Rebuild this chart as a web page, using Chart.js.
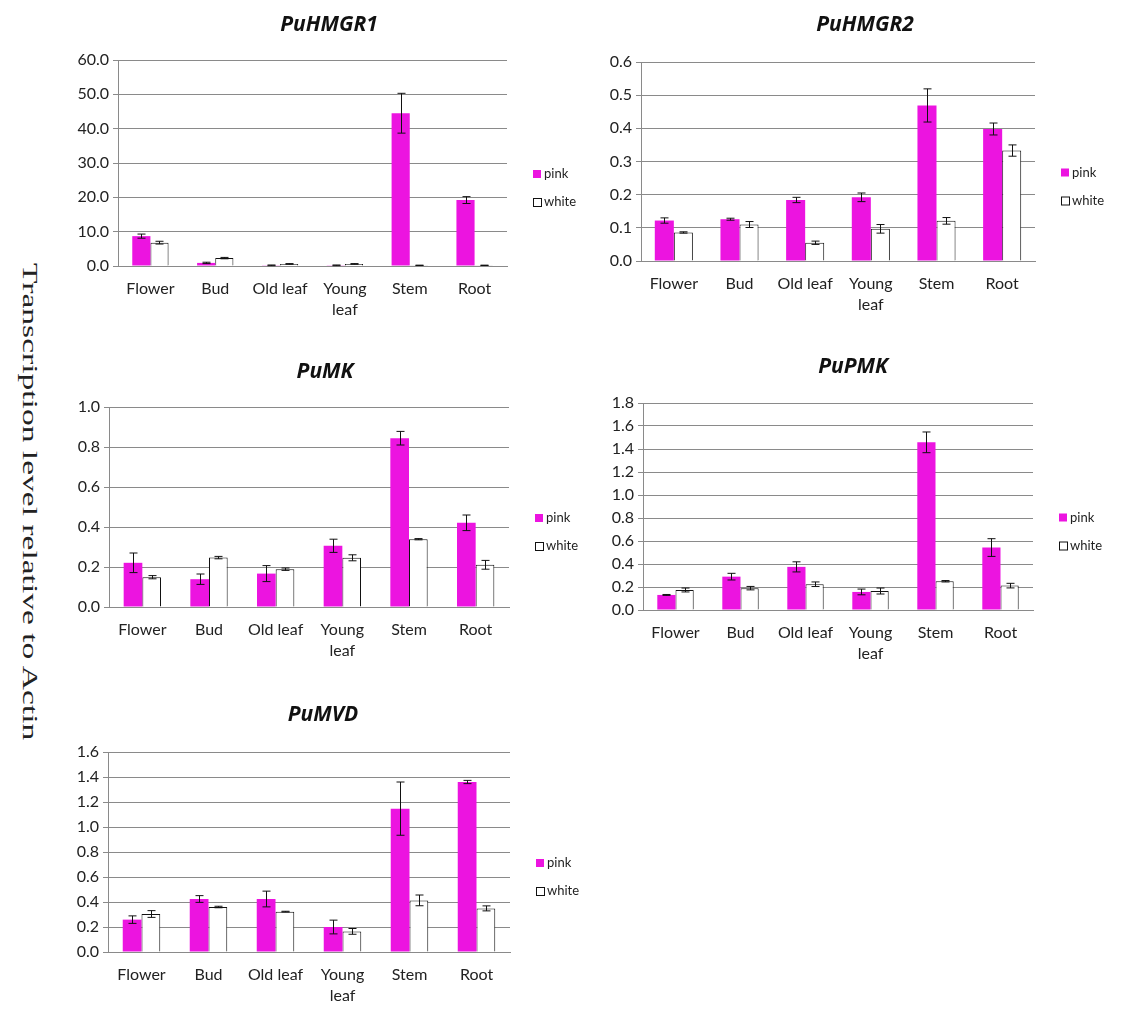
<!DOCTYPE html>
<html>
<head>
<meta charset="utf-8">
<script src="https://cdn.jsdelivr.net/npm/chart.js@4.4.1/dist/chart.umd.min.js"></script>
<style>
  body { margin: 0; background: #fff; width: 1134px; height: 1015px; position: relative; overflow: hidden; }
  .box { position: absolute; }
  #ylab { position: absolute; font-family: "Liberation Serif", serif; font-size: 22px; color: #222; white-space: nowrap; transform-origin: 0 0; }
</style>
</head>
<body>
<div id="ylab">Transcription level relative to Actin</div>

<script>
// tissues on the x axis
const tissues = ['Flower', 'Bud', 'Old leaf', ['Young', 'leaf'], 'Stem', 'Root'];
const seriesNames = ['pink', 'white'];

// PuHMGR1
const hmgr1Pink = [8.7, 0.9, 0.2, 0.2, 44.5, 19.2];
const hmgr1PinkErr = [0.6, 0.2, 0.1, 0.1, 5.8, 1.0];
const hmgr1White = [6.8, 2.3, 0.6, 0.6, 0.2, 0.2];
const hmgr1WhiteErr = [0.4, 0.2, 0.1, 0.1, 0.05, 0.05];

// PuHMGR2
const hmgr2Pink = [0.122, 0.126, 0.184, 0.192, 0.469, 0.398];
const hmgr2PinkErr = [0.008, 0.003, 0.008, 0.013, 0.05, 0.018];
const hmgr2White = [0.086, 0.110, 0.055, 0.097, 0.121, 0.333];
const hmgr2WhiteErr = [0.002, 0.009, 0.005, 0.013, 0.010, 0.017];

// PuMK
const mkPink = [0.221, 0.139, 0.167, 0.306, 0.844, 0.421];
const mkPinkErr = [0.049, 0.026, 0.040, 0.033, 0.034, 0.039];
const mkWhite = [0.149, 0.247, 0.189, 0.246, 0.339, 0.211];
const mkWhiteErr = [0.008, 0.006, 0.006, 0.015, 0.003, 0.022];

// PuPMK
const pmkPink = [0.131, 0.290, 0.375, 0.157, 1.458, 0.543];
const pmkPinkErr = [0.004, 0.029, 0.044, 0.025, 0.090, 0.077];
const pmkWhite = [0.174, 0.190, 0.224, 0.165, 0.250, 0.212];
const pmkWhiteErr = [0.017, 0.015, 0.020, 0.026, 0.006, 0.020];

// PuMVD
const mvdPink = [0.259, 0.424, 0.424, 0.200, 1.147, 1.360];
const mvdPinkErr = [0.030, 0.027, 0.063, 0.055, 0.213, 0.013];
const mvdWhite = [0.304, 0.360, 0.323, 0.165, 0.413, 0.349];
const mvdWhiteErr = [0.027, 0.006, 0.003, 0.023, 0.043, 0.020];

const PINK = '#EC14E0';
const GRID = '#8a8a8a';
const TEXT = '#222';
const FONT = 'Lato, "Open Sans", sans-serif';
const TITLE_SIZE = 21;

// error bars drawn from the err arrays through the y scale
const errorBars = {
  id: 'errorBars',
  afterDatasetsDraw(chart) {
    const ctx = chart.ctx;
    const y = chart.scales.y;
    ctx.save();
    ctx.strokeStyle = '#111';
    ctx.lineWidth = 1;
    chart.data.datasets.forEach((ds, di) => {
      const meta = chart.getDatasetMeta(di);
      meta.data.forEach((bar, i) => {
        const v = ds.data[i], e = ds.err[i];
        const x = Math.round(bar.x) + 0.5;
        const top = y.getPixelForValue(v + e);
        const bot = y.getPixelForValue(v - e);
        ctx.beginPath();
        ctx.moveTo(x, top); ctx.lineTo(x, bot);
        ctx.moveTo(x - 4, top); ctx.lineTo(x + 4, top);
        ctx.moveTo(x - 4, bot); ctx.lineTo(x + 4, bot);
        ctx.stroke();
      });
    });
    ctx.restore();
  }
};

// Excel style legend to the right of the plot
const sideLegend = {
  id: 'sideLegend',
  afterDraw(chart) {
    const ctx = chart.ctx;
    const a = chart.chartArea;
    const cx = a.right + 26;
    const mid = (a.top + a.bottom) / 2;
    const rows = [mid + 11, mid + 39];
    ctx.save();
    ctx.font = '13px ' + FONT;
    ctx.textBaseline = 'middle';
    chart.data.datasets.forEach((ds, i) => {
      const yy = rows[i];
      if (i === 0) {
        ctx.fillStyle = PINK;
        ctx.fillRect(cx, yy - 4, 8, 8);
      } else {
        ctx.fillStyle = '#fff';
        ctx.fillRect(cx, yy - 4, 8, 8);
        ctx.strokeStyle = '#111';
        ctx.lineWidth = 1;
        ctx.strokeRect(cx + 0.5, yy - 3.5, 8, 8);
      }
      ctx.fillStyle = TEXT;
      ctx.fillText(ds.label, cx + 11, yy);
    });
    ctx.restore();
  }
};

function makeChart(opt) {
  const yW = 56, xH = 58;
  const titleH = TITLE_SIZE * 1.2;
  const left = opt.plotL - yW;
  const width = opt.plotR + opt.rightW - left;
  const top = Math.round(opt.titleY - 5 - titleH / 2);
  const height = opt.plotB + xH - top;
  const div = document.createElement('div');
  div.className = 'box';
  div.style.left = left + 'px';
  div.style.top = top + 'px';
  div.style.width = width + 'px';
  div.style.height = height + 'px';
  const cv = document.createElement('canvas');
  div.appendChild(cv);
  document.body.appendChild(div);

  return new Chart(cv, {
    type: 'bar',
    data: {
      labels: tissues,
      datasets: [
        { label: seriesNames[0], data: opt.pink, err: opt.pinkErr, backgroundColor: PINK, borderWidth: 0 },
        { label: seriesNames[1], data: opt.white, err: opt.whiteErr, backgroundColor: '#fff', borderColor: '#111', borderWidth: 1 }
      ]
    },
    options: {
      responsive: true,
      maintainAspectRatio: false,
      animation: false,
      events: [],
      layout: { padding: 0 },
      datasets: { bar: { categoryPercentage: opt.cat, barPercentage: 1.0 } },
      plugins: {
        legend: { display: false },
        tooltip: { enabled: false },
        title: {
          display: true,
          text: opt.title,
          color: '#111',
          font: { family: '"Open Sans", Lato, sans-serif', size: TITLE_SIZE, weight: 'bold', style: 'italic', lineHeight: 1.2 },
          padding: { top: 5, bottom: opt.plotT - top - 5 - titleH }
        }
      },
      scales: {
        x: {
          grid: { display: false, drawTicks: false },
          border: { display: true, color: GRID, width: 1 },
          ticks: {
            color: TEXT, padding: 12, maxRotation: 0, autoSkip: false,
            font: { family: FONT, size: 16, lineHeight: 1.32 }
          },
          afterFit(s) { s.height = xH; }
        },
        y: {
          min: 0,
          max: opt.max,
          ticks: {
            stepSize: opt.step, color: TEXT, padding: 4,
            font: { family: FONT, size: 16 },
            callback: v => Number(v).toFixed(1)
          },
          grid: { color: GRID, lineWidth: 1, tickLength: 5, drawTicks: true },
          border: { display: true, color: GRID, width: 1 },
          afterFit(s) { s.width = yW; }
        },
        // empty right-hand box that keeps room for the legend
        side: {
          type: 'linear',
          position: 'right',
          display: true,
          grid: { display: false, drawTicks: false },
          border: { display: false },
          ticks: { display: false },
          afterFit(s) { s.width = opt.rightW; }
        }
      }
    },
    plugins: [errorBars, sideLegend]
  });
}

makeChart({ title: 'PuHMGR1', plotL: 118, plotR: 507, plotT: 60, plotB: 266, titleY: 25, rightW: 89,
  max: 60, step: 10, cat: 0.56, pink: hmgr1Pink, pinkErr: hmgr1PinkErr, white: hmgr1White, whiteErr: hmgr1WhiteErr });
makeChart({ title: 'PuHMGR2', plotL: 641, plotR: 1035, plotT: 62, plotB: 261, titleY: 25, rightW: 110,
  max: 0.6, step: 0.1, cat: 0.58, pink: hmgr2Pink, pinkErr: hmgr2PinkErr, white: hmgr2White, whiteErr: hmgr2WhiteErr });
makeChart({ title: 'PuMK', plotL: 109, plotR: 509, plotT: 407, plotB: 607, titleY: 372, rightW: 88,
  max: 1.0, step: 0.2, cat: 0.56, pink: mkPink, pinkErr: mkPinkErr, white: mkWhite, whiteErr: mkWhiteErr });
makeChart({ title: 'PuPMK', plotL: 643, plotR: 1033, plotT: 403, plotB: 610, titleY: 367, rightW: 86,
  max: 1.8, step: 0.2, cat: 0.56, pink: pmkPink, pinkErr: pmkPinkErr, white: pmkWhite, whiteErr: pmkWhiteErr });
makeChart({ title: 'PuMVD', plotL: 108, plotR: 510, plotT: 752, plotB: 952, titleY: 715, rightW: 84,
  max: 1.6, step: 0.2, cat: 0.56, pink: mvdPink, pinkErr: mvdPinkErr, white: mvdWhite, whiteErr: mvdWhiteErr });

// rotated side label, stretched to the reference length
const yl = document.getElementById('ylab');
const len = yl.offsetWidth, hgt = yl.offsetHeight;
const sx = 477 / len;
yl.style.left = (30 + hgt / 2) + 'px';
yl.style.top = '263px';
yl.style.transform = 'rotate(90deg) scaleX(' + sx + ')';
</script>
</body>
</html>
